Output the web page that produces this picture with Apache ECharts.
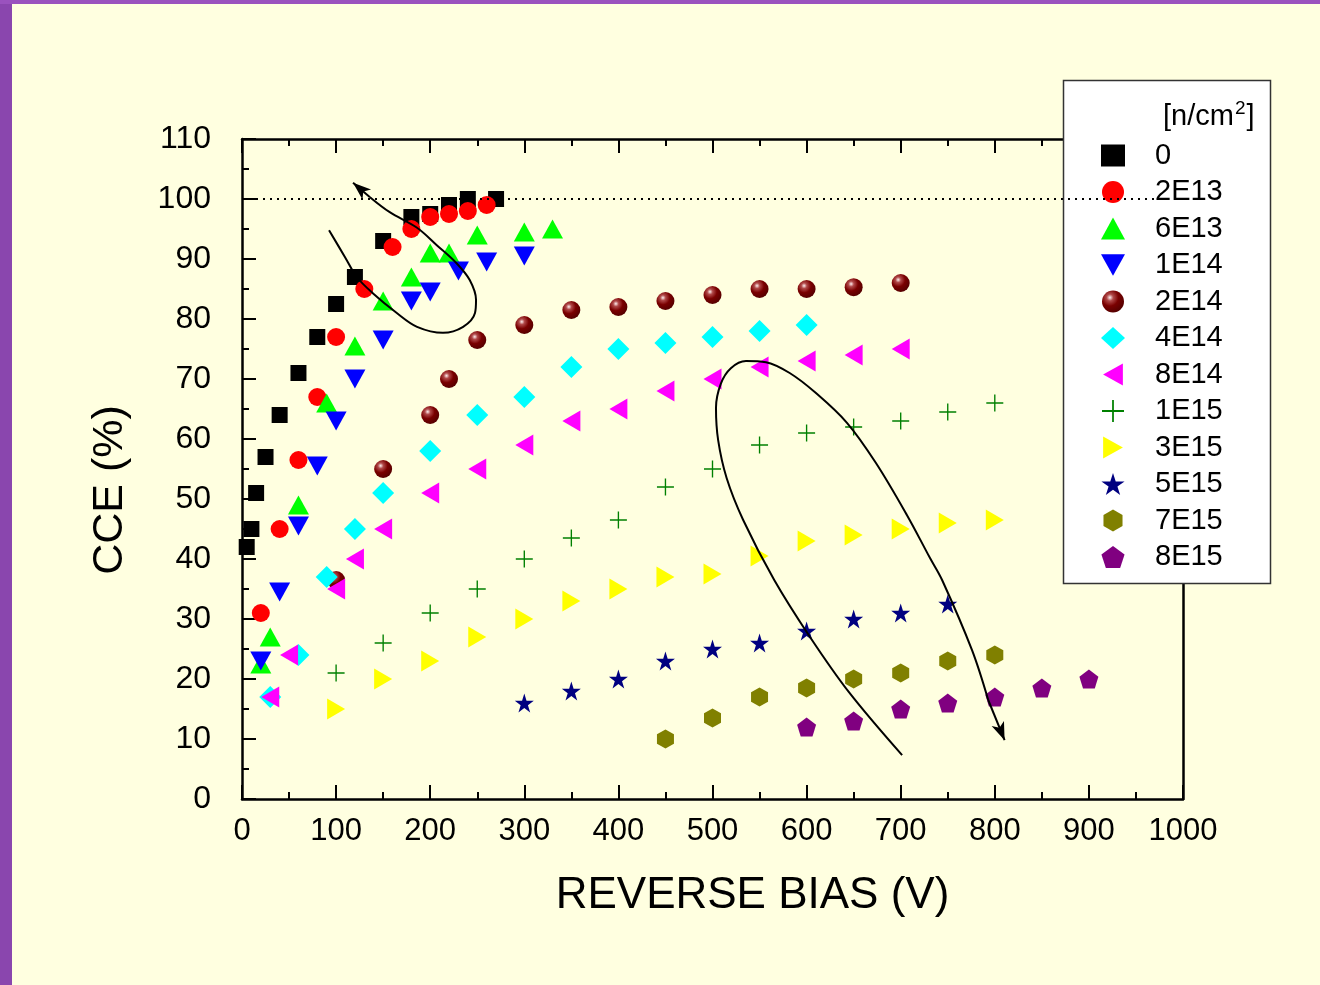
<!DOCTYPE html>
<html>
<head>
<meta charset="utf-8">
<script src="https://cdn.jsdelivr.net/npm/echarts@6/dist/echarts.min.js"></script>
<style>
  html, body { margin: 0; padding: 0; background: #FFFFE0; }
  #chart { width: 1320px; height: 985px; }
</style>
</head>
<body>
<div id="chart"></div>
<script>
// Fluence labels (n/cm^2) for each irradiation step
const fluences = ['0', '2E13', '6E13', '1E14', '2E14', '4E14', '8E14', '1E15', '3E15', '5E15', '7E15', '8E15'];

// Charge collection efficiency (%) versus reverse bias (V)
const cce_0    = [[5,42],[10,45],[15,51],[25,57],[40,64],[60,71],[80,77],[100,82.5],[120,87],[150,93],[180,97],[200,97.5],[220,99],[240,100],[270,100]];
const cce_2E13 = [[20,31],[40,45],[60,56.5],[80,67],[100,77],[130,85],[160,92],[180,95],[200,97],[220,97.5],[240,98],[260,99]];
const cce_6E13 = [[20,22.5],[30,27],[60,49],[90,66],[120,75.5],[150,83],[180,87],[200,91],[220,91],[250,94],[300,94.5],[330,95]];
const cce_1E14 = [[20,23],[40,34.5],[60,45.5],[80,55.5],[100,63],[120,70],[150,76.5],[180,83],[200,84.5],[230,88],[260,89.5],[300,90.5]];
const cce_2E14 = [[100,36.5],[150,55],[200,64],[220,70],[250,76.5],[300,79],[350,81.5],[400,82],[450,83],[500,84],[550,85],[600,85],[650,85.3],[700,86]];
const cce_4E14 = [[30,17],[60,24],[90,37],[120,45],[150,51],[200,58],[250,64],[300,67],[350,72],[400,75],[450,76],[500,77],[550,78],[600,79]];
const cce_8E14 = [[30,17],[50,24],[100,35],[120,40],[150,45],[200,51],[250,55],[300,59],[350,63],[400,65],[450,68],[500,70],[550,72],[600,73],[650,74],[700,75]];
const cce_1E15 = [[100,21],[150,26],[200,31],[250,35],[300,40],[350,43.5],[400,46.5],[450,52],[500,55],[550,59],[600,61],[650,62],[700,63],[750,64.5],[800,66]];
const cce_3E15 = [[100,15],[150,20],[200,23],[250,27],[300,30],[350,33],[400,35],[450,37],[500,37.5],[550,40.5],[600,43],[650,44],[700,45],[750,46],[800,46.5]];
const cce_5E15 = [[300,16],[350,18],[400,20],[450,23],[500,25],[550,26],[600,28],[650,30],[700,31],[750,32.5]];
const cce_7E15 = [[450,10],[500,13.5],[550,17],[600,18.5],[650,20],[700,21],[750,23],[800,24]];
const cce_8E15 = [[600,12],[650,13],[700,15],[750,16],[800,17],[850,18.5],[900,20]];

// Full-efficiency reference level
const fullLevel = [[0,100],[985,100]];

// Hand-drawn guide loops (bias, CCE), each ending in an arrow tip
const loopLow = [[92.5,94.8],[109.5,90.3],[122,87],[139,84.3],[164.5,81],[186,78.7],[213.6,77.7],[235,78.7],[247.6,81],[248.7,83.2],[242,86.5],[228,89.3],[207,92.3],[186,95.2],[157,97.8],[136,100.3]];
const loopLowTip = [118,102.7];
const loopHigh = [[701.5,7.3],[645,17.8],[603.6,27],[565.6,36.5],[532.6,46.5],[515,53.5],[506,59.8],[503.7,65.2],[508.8,69.2],[519.5,71.8],[535.6,73],[556.8,72.8],[582,71],[609.6,67.7],[642.9,62.7],[673.7,56],[706.7,47.3],[731,40.2],[744,36.5],[775.8,24.8],[793,16.5]];
const loopHighTip = [810.4,9.8];

const FONT = "'Liberation Sans', Arial, sans-serif";

// Marker shapes
const TRI_DOWN  = 'path://M0,0L100,0L50,90Z';
const TRI_LEFT  = 'path://M90,0L90,100L0,50Z';
const TRI_RIGHT = 'path://M0,0L0,100L90,50Z';
const PLUS = 'path://M0,46H100V54H0ZM46,0H54V100H46Z';
const STAR = 'path://M50,0L61.2,34.5L97.6,34.5L68.2,55.9L79.4,90.5L50,69.1L20.6,90.5L31.8,55.9L2.4,34.5L38.8,34.5Z';
const HEX  = 'path://M50,0L93.3,25L93.3,75L50,100L6.7,75L6.7,25Z';
const PENT = 'path://M50,0L97.6,34.5L79.4,90.5L20.6,90.5L2.4,34.5Z';

const sphere = {
  type: 'radial', x: 0.36, y: 0.32, r: 0.7,
  colorStops: [
    { offset: 0, color: '#fff0f0' },
    { offset: 0.22, color: '#b04848' },
    { offset: 0.55, color: '#7a0000' },
    { offset: 1, color: '#560000' }
  ]
};

const styles = [
  { data: cce_0,    symbol: 'rect',     size: 16,       color: '#000000' },
  { data: cce_2E13, symbol: 'circle',   size: 18,       color: '#FF0000' },
  { data: cce_6E13, symbol: 'triangle', size: [21,19],  color: '#00FF00' },
  { data: cce_1E14, symbol: TRI_DOWN,   size: [21,19],  color: '#0000FF' },
  { data: cce_2E14, symbol: 'circle',   size: 18,       color: sphere },
  { data: cce_4E14, symbol: 'diamond',  size: [22,22],  color: '#00FFFF' },
  { data: cce_8E14, symbol: TRI_LEFT,   size: [18,21],  color: '#FF00FF' },
  { data: cce_1E15, symbol: PLUS,       size: 17,       color: '#008000' },
  { data: cce_3E15, symbol: TRI_RIGHT,  size: [18,21],  color: '#FFFF00' },
  { data: cce_5E15, symbol: STAR,       size: 19,       color: '#000080' },
  { data: cce_7E15, symbol: HEX,        size: [17,19],  color: '#808000' },
  { data: cce_8E15, symbol: PENT,       size: 19,       color: '#800080' }
];

const series = fluences.map((name, i) => ({
  name,
  type: 'scatter',
  data: styles[i].data,
  symbol: styles[i].symbol,
  symbolSize: styles[i].size,
  itemStyle: { color: styles[i].color, opacity: 1 },
  z: 3,
  silent: true
}));

function guide(path, tip) {
  return {
    type: 'line',
    data: path,
    smooth: 0.35,
    showSymbol: false,
    symbol: 'none',
    lineStyle: { color: '#000', width: 2 },
    z: 6,
    silent: true,
    markLine: {
      silent: true,
      symbol: ['none', 'arrow'],
      symbolSize: [10, 18],
      label: { show: false },
      lineStyle: { color: '#000', width: 2, type: 'solid' },
      data: [[{ coord: path[path.length - 1] }, { coord: tip }]]
    }
  };
}

series.push({
  type: 'line',
  data: fullLevel,
  showSymbol: false,
  symbol: 'none',
  lineStyle: { color: '#000', width: 1.8, type: [2, 5] },
  z: 10,
  silent: true
});
series.push(guide(loopLow, loopLowTip));
series.push(guide(loopHigh, loopHighTip));

const chart = echarts.init(document.getElementById('chart'), null, { renderer: 'canvas' });

const plain = v => String(v);

chart.setOption({
  animation: false,
  backgroundColor: '#FFFFE0',
  textStyle: { fontFamily: FONT },
  grid: { left: 242, top: 139, width: 941, height: 660, containLabel: false },
  xAxis: [
    {
      type: 'value', min: 0, max: 1000, interval: 100, position: 'bottom',
      name: 'REVERSE BIAS (V)', nameLocation: 'middle', nameGap: 75,
      nameTextStyle: { fontSize: 44, color: '#000', fontFamily: FONT, padding: [0, 0, 0, 80] },
      axisLine: { show: true, onZero: false, lineStyle: { color: '#000', width: 2.5 } },
      axisTick: { show: true, inside: true, length: 14, lineStyle: { color: '#000', width: 2 } },
      minorTick: { show: true, splitNumber: 2, length: 7, lineStyle: { color: '#000', width: 2 } },
      axisLabel: { fontSize: 31, color: '#000', margin: 17, fontFamily: FONT, formatter: plain },
      splitLine: { show: false }
    },
    {
      type: 'value', min: 0, max: 1000, interval: 100, position: 'top',
      axisLine: { show: true, onZero: false, lineStyle: { color: '#000', width: 2.5 } },
      axisTick: { show: true, inside: true, length: 14, lineStyle: { color: '#000', width: 2 } },
      minorTick: { show: true, splitNumber: 2, length: 7, lineStyle: { color: '#000', width: 2 } },
      axisLabel: { show: false },
      splitLine: { show: false }
    }
  ],
  yAxis: [
    {
      type: 'value', min: 0, max: 110, interval: 10, position: 'left',
      name: 'CCE (%)', nameLocation: 'middle', nameGap: 110,
      nameTextStyle: { fontSize: 43, color: '#000', fontFamily: FONT, padding: [0, 42, 0, 0] },
      axisLine: { show: true, onZero: false, lineStyle: { color: '#000', width: 2.5 } },
      axisTick: { show: true, inside: true, length: 14, lineStyle: { color: '#000', width: 2 } },
      minorTick: { show: true, splitNumber: 2, length: 7, lineStyle: { color: '#000', width: 2 } },
      axisLabel: { fontSize: 32, color: '#000', margin: 31, fontFamily: FONT, formatter: plain },
      splitLine: { show: false }
    },
    {
      type: 'value', min: 0, max: 110, interval: 10, position: 'right',
      axisLine: { show: true, onZero: false, lineStyle: { color: '#000', width: 2.5 } },
      axisTick: { show: false },
      axisLabel: { show: false },
      splitLine: { show: false }
    }
  ],
  legend: {
    data: fluences,
    orient: 'vertical',
    left: 1101, top: 141,
    padding: 0,
    itemWidth: 24, itemHeight: 22,
    itemGap: 7.5,
    selectedMode: false,
    z: 8,
    textStyle: { fontSize: 29, color: '#000', fontFamily: FONT, padding: [0, 0, 0, 25] }
  },
  graphic: [
    { type: 'rect', shape: { x: 0, y: 0, width: 12, height: 985 }, style: { fill: '#8A46AE' }, z: 20, silent: true },
    { type: 'rect', shape: { x: 0, y: 0, width: 1320, height: 4 }, style: { fill: '#9A52BE' }, z: 20, silent: true },
    { type: 'rect', shape: { x: 1063.5, y: 80.5, width: 207, height: 503 },
      style: { fill: '#FFFFFF', stroke: '#333333', lineWidth: 1.5 }, z: 5, silent: true },
    { type: 'text', left: 1163, top: 99, z: 9, silent: true,
      style: {
        text: '{b|[n/cm}{s|2}{b|]}',
        rich: {
          b: { fontSize: 29, fontFamily: FONT, fill: '#000', verticalAlign: 'bottom', lineHeight: 32 },
          s: { fontSize: 19, fontFamily: FONT, fill: '#000', verticalAlign: 'top', lineHeight: 32, padding: [0, 1, 16, 1] }
        }
      }
    }
  ],
  series
});
</script>
</body>
</html>
